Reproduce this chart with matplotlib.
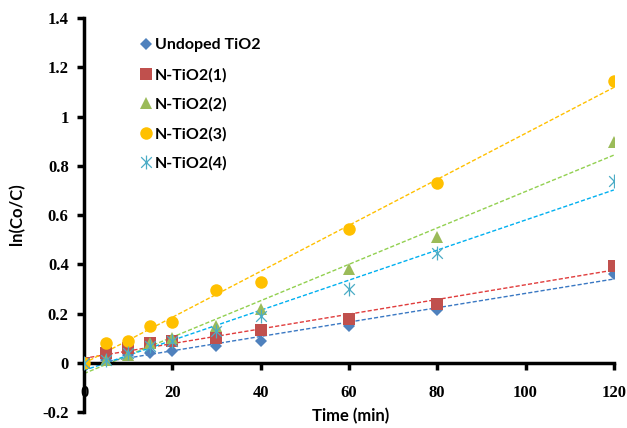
import numpy as np
import matplotlib
matplotlib.use('Agg')
import matplotlib.pyplot as plt
from matplotlib.path import Path

# time points (min)
time = [0, 5, 10, 15, 20, 30, 40, 60, 80, 120]

# ln(Co/C) for each catalyst
undoped = [0, 0.01, 0.03, 0.04, 0.05, 0.07, 0.09, 0.15, 0.215, 0.36]
n_tio2_1 = [0, 0.04, 0.06, 0.08, 0.09, 0.10, 0.135, 0.18, 0.24, 0.395]
n_tio2_2 = [0, 0.01, 0.03, 0.08, 0.10, 0.15, 0.22, 0.38, 0.51, 0.895]
n_tio2_3 = [0, 0.08, 0.09, 0.15, 0.165, 0.295, 0.33, 0.545, 0.73, 1.145]
n_tio2_4 = [0, 0.01, 0.04, 0.07, 0.09, 0.13, 0.19, 0.30, 0.445, 0.74]

labels = ['Undoped TiO2', 'N-TiO2(1)', 'N-TiO2(2)', 'N-TiO2(3)', 'N-TiO2(4)']
series = [undoped, n_tio2_1, n_tio2_2, n_tio2_3, n_tio2_4]

# Excel-style asterisk: an x with a vertical bar
star = Path([(-1, -1), (1, 1), (-1, 1), (1, -1), (0, -1.3), (0, 1.3)],
            [Path.MOVETO, Path.LINETO] * 3)
markers = ['D', 's', '^', 'o', star]
sizes = [6, 8, 9, 9, 10]
colors = ['#4F81BD', '#C0504D', '#9BBB59', '#FFC000', '#4BACC6']
line_colors = ['#3A78C3', '#E03C3C', '#92D050', '#FFC000', '#00B0F0']

fig = plt.figure(figsize=(6.27, 4.28), dpi=100)
ax = fig.add_axes([0.134, 0.037, 0.845, 0.921])

xx = np.array([0, 120])
for y, lab, m, s, c, lc in zip(series, labels, markers, sizes, colors, line_colors):
    if m is star:
        ax.plot(time, y, linestyle='none', marker=m, markersize=s, color=c,
                markerfacecolor='none', markeredgewidth=0.9, label=lab, zorder=3)
    else:
        ax.plot(time, y, linestyle='none', marker=m, markersize=s, color=c,
                markeredgewidth=0, label=lab, zorder=3)
    k, b = np.polyfit(time, y, 1)
    ax.plot(xx, k * xx + b, linestyle=(0, (3, 1.5)), color=lc, linewidth=1.0, zorder=2)

ax.set_xlim(0, 120)
ax.set_ylim(-0.2, 1.4)
ax.set_xticks([0, 20, 40, 60, 80, 100, 120])
ax.set_yticks([-0.2, 0, 0.2, 0.4, 0.6, 0.8, 1, 1.2, 1.4])
ax.set_yticklabels(['-0.2', '0', '0.2', '0.4', '0.6', '0.8', '1', '1.2', '1.4'])

ax.spines['top'].set_visible(False)
ax.spines['right'].set_visible(False)
ax.spines['bottom'].set_position(('data', 0))
ax.spines['left'].set_linewidth(2.5)
ax.spines['bottom'].set_linewidth(2.5)
ax.tick_params(axis='both', direction='out', length=5, width=2.5,
               labelsize=12, pad=6)
for t in ax.get_xticklabels() + ax.get_yticklabels():
    t.set_fontfamily('Liberation Serif')
    t.set_fontweight('bold')
ax.tick_params(axis='x', pad=11)

fig.text(0.028, 0.5, 'ln(Co/C)', rotation=90, ha='center', va='center',
         fontsize=12, fontweight='bold', family='Lato')
fig.text(0.56, 0.028, 'Time (min)', ha='center', va='center',
         fontsize=12, fontweight='bold', family='Lato')

leg = ax.legend(loc='upper left', bbox_to_anchor=(0.08, 0.985), frameon=False,
                handlelength=0.6, handletextpad=0.3, labelspacing=0.95,
                prop={'family': 'Lato', 'weight': 'bold', 'size': 11.5})

fig.savefig('out.png', dpi=100)
